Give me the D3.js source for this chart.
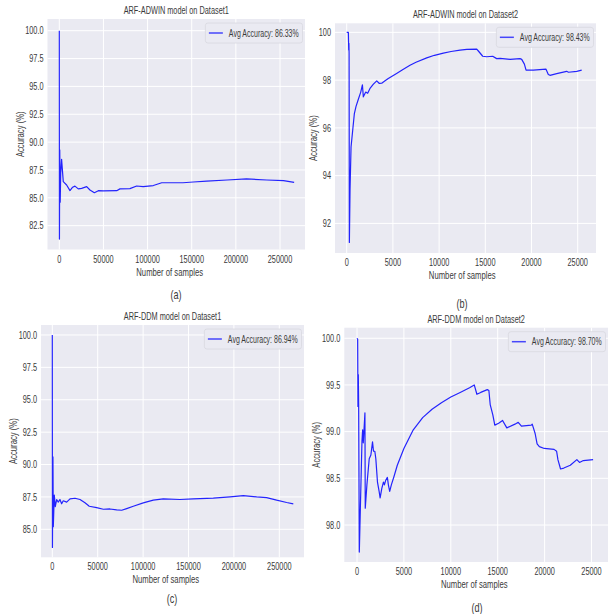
<!DOCTYPE html>
<html lang="en">
<head>
<meta charset="UTF-8" />
<title>ARF accuracy curves</title>
<script src="https://d3js.org/d3.v7.min.js"></script>
<style>
  body { margin: 0; background: #fff; }
  svg { display: block; }
  text { font-family: "Liberation Sans", Arial, sans-serif; fill: #3a3a3a; }
  .grid line { stroke: #fff; stroke-width: 1; }
  .curve { fill: none; stroke: #0000ff; stroke-width: 1.2; stroke-opacity: 0.85; stroke-linejoin: round; }
</style>
</head>
<body>
<div id="chart"></div>
<script>
// accuracy (%) vs number of samples
const adwinD1 = [
  [0, 100], [150, 81.3], [500, 89.3], [1000, 84.6], [1600, 87.2], [2600, 88.45],
  [4500, 86.45], [8300, 86.15], [12100, 85.65], [15100, 85.95], [17700, 86.05],
  [21500, 85.8], [25300, 85.85], [31000, 86.0], [34700, 85.7], [39700, 85.46],
  [44200, 85.64], [49800, 85.62], [65000, 85.64], [68700, 85.8], [80000, 85.82],
  [87600, 86.06], [95000, 86.0], [106500, 86.1], [116000, 86.35], [140000, 86.35],
  [151800, 86.42], [167000, 86.5], [190000, 86.6], [212000, 86.7], [235000, 86.6],
  [254000, 86.55], [266000, 86.39]
];
const adwinD2 = [
  [0, 100], [180, 100], [220, 99.26], [240, 99.54], [260, 99.15], [290, 91.2],
  [360, 93.4], [470, 95.2], [650, 95.9], [830, 96.6], [1010, 96.9], [1260, 97.2],
  [1520, 97.5], [1700, 97.8], [1800, 97.3], [2060, 97.5], [2270, 97.45],
  [2520, 97.65], [2890, 97.83], [3250, 97.97], [3535, 97.86], [3790, 97.87],
  [4150, 97.97], [4500, 98.07], [5400, 98.28], [6000, 98.42], [6850, 98.62],
  [7500, 98.75], [8660, 98.93], [9500, 99.04], [10460, 99.13], [11300, 99.2],
  [12270, 99.26], [13000, 99.29], [14070, 99.3], [14250, 99.22],
  [14720, 99.0], [15150, 98.98], [15800, 99.0], [16230, 98.9], [16600, 98.91],
  [17680, 98.87], [18760, 98.9], [18940, 98.87], [19230, 98.67], [19410, 98.42],
  [20200, 98.42], [21570, 98.46], [21820, 98.24], [22000, 98.2], [22730, 98.27],
  [23800, 98.37], [24000, 98.33], [24900, 98.37], [25430, 98.42]
];
const ddmD1 = [
  [0, 100], [150, 83.6], [700, 90.6], [1100, 85.2], [2200, 87.65], [3300, 86.75],
  [4800, 87.3], [6600, 87.1], [8400, 87.3], [10300, 86.97], [12100, 87.2],
  [15800, 87.1], [19500, 87.35], [25000, 87.4], [30500, 87.3], [36000, 87.05],
  [40700, 86.78], [48800, 86.67], [56200, 86.55], [63500, 86.57], [70900, 86.5],
  [76400, 86.47], [81900, 86.6], [89200, 86.78], [100200, 87.04], [111200, 87.25],
  [122200, 87.35], [140600, 87.3], [155300, 87.35], [177300, 87.4], [195700, 87.5],
  [210400, 87.6], [225000, 87.5], [236000, 87.45], [247100, 87.25], [258100, 87.07],
  [265400, 86.97]
];
const ddmD2 = [
  [0, 100], [70, 99.99], [100, 99.27], [140, 99.61], [176, 99.29], [246, 97.71],
  [528, 98.89], [600, 99.02], [670, 98.88], [845, 99.2], [880, 98.18], [1056, 98.43],
  [1303, 98.71], [1479, 98.75], [1655, 98.89], [1760, 98.79], [1900, 98.79],
  [2007, 98.71], [2183, 98.46], [2359, 98.36], [2465, 98.29], [2640, 98.39],
  [2817, 98.46], [2923, 98.43], [3063, 98.48], [3239, 98.51], [3345, 98.43],
  [3486, 98.36], [3662, 98.43], [3944, 98.52], [4296, 98.64], [5000, 98.82],
  [6000, 99.02], [7000, 99.15], [8000, 99.24], [9000, 99.31], [10000, 99.37],
  [11000, 99.42], [12000, 99.47], [12500, 99.5], [12780, 99.4], [13190, 99.42],
  [13890, 99.45], [14060, 99.44], [14200, 99.29], [14480, 99.18], [14690, 99.07],
  [15100, 99.09], [15520, 99.12], [15970, 99.04], [16840, 99.08], [17190, 99.1],
  [17530, 99.06], [18580, 99.07], [18680, 99.08], [18990, 98.98], [19200, 98.87],
  [19440, 98.84], [19970, 98.82], [21010, 98.81], [21280, 98.79], [21420, 98.7],
  [21700, 98.6], [22050, 98.61], [22740, 98.64], [23440, 98.7], [23720, 98.67],
  [24130, 98.69], [25170, 98.7]
];

const titles = ["ARF-ADWIN model on Dataset1", "ARF-ADWIN model on Dataset2",
                "ARF-DDM model on Dataset1", "ARF-DDM model on Dataset2"];
const avgAccuracy = [86.33, 98.43, 86.94, 98.70];
const captions = ["(a)", "(b)", "(c)", "(d)"];

const xTicksD1 = [0, 50000, 100000, 150000, 200000, 250000];
const xTicksD2 = [0, 5000, 10000, 15000, 20000, 25000];
const yTicksA = [82.5, 85.0, 87.5, 90.0, 92.5, 95.0, 97.5, 100.0];
const yTicksB = [92, 94, 96, 98, 100];
const yTicksC = [85.0, 87.5, 90.0, 92.5, 95.0, 97.5, 100.0];
const yTicksD = [98.0, 98.5, 99.0, 99.5, 100.0];

const W = 609, H = 614;
const SX = 0.7; // the figure's text is horizontally squeezed
const svg = d3.select("#chart").append("svg").attr("width", W).attr("height", H);

function txt(parent, x, y, str, size, anchor, rot) {
  return parent.append("text")
    .attr("transform", `translate(${x},${y})${rot ? " rotate(-90)" : ""} scale(${SX},1)`)
    .attr("text-anchor", anchor || "middle").attr("font-size", size)
    .text(str);
}

const panels = [
  { data: adwinD1, box: [47.5, 19, 305, 249.5], xd: [-13370, 278300], yd: [80.36, 101.05],
    xt: xTicksD1, yt: yTicksA, yf: ".1f", ylabX: 20, cap: [176, 299] },
  { data: adwinD2, box: [335, 23.3, 596, 253], xd: [-1266, 26980], yd: [90.76, 100.38],
    xt: xTicksD2, yt: yTicksB, yf: "d", ylabX: 313, cap: [462, 308] },
  { data: ddmD1, box: [41, 325, 304, 557.3], xd: [-12445, 277200], yd: [82.84, 100.77],
    xt: xTicksD1, yt: yTicksC, yf: ".1f", ylabX: 13, cap: [172, 603] },
  { data: ddmD2, box: [344.3, 327.7, 608, 562], xd: [-1354, 26759], yd: [97.604, 100.113],
    xt: xTicksD2, yt: yTicksD, yf: ".1f", ylabX: 316, cap: [477, 612] }
];

panels.forEach((p, i) => {
  const [x0, y0, x1, y1] = p.box;
  const x = d3.scaleLinear().domain(p.xd).range([x0, x1]);
  const y = d3.scaleLinear().domain(p.yd).range([y1, y0]);
  const g = svg.append("g");

  g.append("rect").attr("x", x0).attr("y", y0)
    .attr("width", x1 - x0).attr("height", y1 - y0).attr("fill", "#eaeaf2");

  // gridlines
  const grid = g.append("g").attr("class", "grid");
  grid.selectAll(".gx").data(p.xt).enter().append("line")
    .attr("x1", d => x(d)).attr("x2", d => x(d)).attr("y1", y0).attr("y2", y1);
  grid.selectAll(".gy").data(p.yt).enter().append("line")
    .attr("y1", d => y(d)).attr("y2", d => y(d)).attr("x1", x0).attr("x2", x1);

  // tick labels
  p.xt.forEach(d => txt(g, x(d), y1 + 13, d3.format("d")(d), 10.5));
  p.yt.forEach(d => txt(g, x0 - 4, y(d) + 3.7, d3.format(p.yf)(d), 10.5, "end"));

  // curve
  const line = d3.line().x(d => x(d[0])).y(d => y(d[1]));
  g.append("path").datum(p.data).attr("class", "curve").attr("d", line);

  // title and axis labels
  txt(g, (x0 + x1) / 2, y0 - 5, titles[i], 10.5);
  txt(g, (x(p.xt[0]) + x(p.xt[p.xt.length - 1])) / 2, y1 + 26, "Number of samples", 11);
  txt(g, p.ylabX + 4, (y0 + y1) / 2, "Accuracy (%)", 11, "middle", true);

  // legend
  const lg = g.append("g");
  const label = txt(lg, 0, 0, `Avg Accuracy: ${avgAccuracy[i].toFixed(2)}%`, 10, "start");
  const tw = label.node().getBBox().width * SX;
  const bw = tw + 27, bh = 20;
  const bx = x1 - 2.5 - bw, by = y0 + 4;
  lg.insert("rect", "text").attr("x", bx).attr("y", by).attr("width", bw).attr("height", bh)
    .attr("rx", 2.5).attr("fill", "#eaeaf2").attr("stroke", "#d8d8e0").attr("stroke-width", 0.8);
  lg.append("line").attr("x1", bx + 3.5).attr("x2", bx + 17.5)
    .attr("y1", by + bh / 2).attr("y2", by + bh / 2)
    .attr("stroke", "#0000ff").attr("stroke-opacity", 0.7).attr("stroke-width", 1.5);
  label.attr("transform", `translate(${bx + 23.5},${by + bh / 2 + 3.5}) scale(${SX},1)`);

  txt(svg, p.cap[0], p.cap[1], captions[i], 13);
});
</script>
</body>
</html>
